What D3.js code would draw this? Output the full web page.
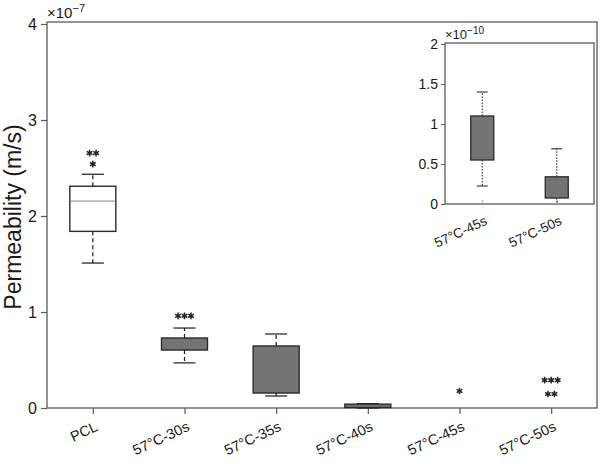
<!DOCTYPE html>
<html><head><meta charset="utf-8">
<script src="https://cdn.jsdelivr.net/npm/d3@7"></script>
<style>body{margin:0;background:#fff}svg{display:block}text{font-family:"Liberation Sans",Arial,sans-serif;fill:#1a1a1a}</style>
</head><body><svg id="c" width="600" height="464"></svg>
<script>
// ---- data (main chart, units of 1e-7 m/s) ----
const categories = ["PCL","57°C-30s","57°C-35s","57°C-40s","57°C-45s","57°C-50s"];
const boxMin    = [1.51, 0.47, 0.125, 0.0, null, null];
const boxQ1     = [1.84, 0.604, 0.156, 0.005, null, null];
const boxMedian = [2.155, 0.66, 0.40, 0.02, null, null];
const boxQ3     = [2.31, 0.729, 0.646, 0.04, null, null];
const boxMax    = [2.435, 0.833, 0.771, 0.045, null, null];
const boxFill   = ["white","gray","gray","gray","gray","gray"];
// significance star rows: category, value level, count
const starCats   = ["PCL","PCL","57°C-30s","57°C-45s","57°C-50s","57°C-50s"];
const starLevels = [2.655, 2.54, 0.96, 0.177, 0.29, 0.146];
const starCounts = [2, 1, 3, 1, 3, 2];
const yTicks = [0,1,2,3,4];
// ---- inset data (units of 1e-10 m/s) ----
const insetCategories = ["57°C-45s","57°C-50s"];
const insetMin = [0.225, 0.0];
const insetQ1  = [0.55, 0.075];
const insetQ3  = [1.1, 0.34];
const insetMax = [1.4, 0.69];
const insetTicks = [0,0.5,1,1.5,2];

const svg = d3.select("#c");
const ink = "#1a1a1a", axisCol = "#5a5a5a", grayFill = "#747474";

// ---- main chart ----
const L = 47, R = 597, T = 22, B = 408;
const x = d3.scalePoint().domain(categories).range([L, R]).padding(0.5);
const y = d3.scaleLinear().domain([0,4]).range([B, T + 2]);

svg.append("rect").attr("x", L).attr("y", T).attr("width", R - L).attr("height", B - T)
  .attr("fill", "none").attr("stroke", axisCol).attr("stroke-width", 1.3);

const yAx = svg.append("g").attr("transform", `translate(${L},0)`)
  .call(d3.axisLeft(y).tickValues(yTicks).tickSize(6).tickPadding(4).tickFormat(d3.format("d")));
yAx.select(".domain").remove();
yAx.selectAll("line").attr("stroke", axisCol).attr("stroke-width", 1.2);
yAx.selectAll("text").attr("font-size", 16).attr("fill", ink).attr("font-family", "Liberation Sans, Arial");

const xAx = svg.append("g").attr("transform", `translate(0,${B})`)
  .call(d3.axisBottom(x).tickSize(6).tickFormat(""));
xAx.select(".domain").remove();
xAx.selectAll("line").attr("stroke", axisCol).attr("stroke-width", 1.2);

svg.append("g").selectAll("text").data(categories).join("text")
  .attr("transform", d => `translate(${x(d) + 6},${B + 22}) rotate(-25)`)
  .attr("text-anchor", "end").attr("font-size", 14.5).text(d => d);

// exponent label
const ex = svg.append("text").attr("x", L).attr("y", 18).attr("font-size", 15);
ex.append("tspan").text("×10");
ex.append("tspan").attr("dy", -6).attr("font-size", 11).text("−7");

svg.append("text").attr("transform", `translate(21,${(T + B) / 2 + 2}) rotate(-90)`)
  .attr("text-anchor", "middle").attr("font-size", 23).text("Permeability (m/s)");

// boxes
const bw = 46, capW = 22;
const boxes = categories.map((c, i) => ({c, min: boxMin[i], q1: boxQ1[i], med: boxMedian[i], q3: boxQ3[i], max: boxMax[i], fill: boxFill[i]}))
  .filter(d => d.min !== null);
const gB = svg.append("g");
boxes.forEach(d => {
  const cx = x(d.c);
  gB.append("line").attr("x1", cx).attr("x2", cx).attr("y1", y(d.q3)).attr("y2", y(d.max))
    .attr("stroke", ink).attr("stroke-width", 1.2).attr("stroke-dasharray", "4,3");
  gB.append("line").attr("x1", cx).attr("x2", cx).attr("y1", y(d.q1)).attr("y2", y(d.min))
    .attr("stroke", ink).attr("stroke-width", 1.2).attr("stroke-dasharray", "4,3");
  [d.max, d.min].forEach(v => gB.append("line").attr("x1", cx - capW / 2).attr("x2", cx + capW / 2)
    .attr("y1", y(v)).attr("y2", y(v)).attr("stroke", ink).attr("stroke-width", 1.2));
  gB.append("rect").attr("x", cx - bw / 2).attr("width", bw).attr("y", y(d.q3)).attr("height", y(d.q1) - y(d.q3))
    .attr("fill", d.fill === "white" ? "#fff" : grayFill).attr("stroke", "#2a2a2a").attr("stroke-width", 1.4);
  if (d.fill === "white")
    gB.append("line").attr("x1", cx - bw / 2 + 1).attr("x2", cx + bw / 2 - 1).attr("y1", y(d.med)).attr("y2", y(d.med))
      .attr("stroke", "#999").attr("stroke-width", 1.1);
});

// stars
const star = d3.symbol().type(d3.symbolAsterisk).size(30);
starCats.forEach((c, i) => {
  const n = starCounts[i], sp = 6.5;
  for (let k = 0; k < n; k++) {
    const sx = x(c) + (k - (n - 1) / 2) * sp;
    svg.append("path").attr("d", star()).attr("transform", `translate(${sx},${y(starLevels[i])})`)
      .attr("fill", "none").attr("stroke", "#222").attr("stroke-width", 1.5);
  }
});

// ---- inset ----
const iL = 445, iR = 594, iT = 43, iB = 204;
const xi = d3.scalePoint().domain(insetCategories).range([iL, iR]).padding(0.5);
const yi = d3.scaleLinear().domain([0,2]).range([iB, iT + 1]);
svg.append("rect").attr("x", iL).attr("y", iT).attr("width", iR - iL).attr("height", iB - iT)
  .attr("fill", "#fff").attr("stroke", axisCol).attr("stroke-width", 1.3);
const yiAx = svg.append("g").attr("transform", `translate(${iL},0)`)
  .call(d3.axisLeft(yi).tickValues(insetTicks).tickSize(4).tickPadding(3).tickFormat(d => d3.format("~g")(d)));
yiAx.select(".domain").remove();
yiAx.selectAll("line").attr("stroke", axisCol);
yiAx.selectAll("text").attr("font-size", 14).attr("fill", ink).attr("font-family", "Liberation Sans, Arial");
const xiAx = svg.append("g").attr("transform", `translate(0,${iB})`)
  .call(d3.axisTop(xi).tickSize(4).tickFormat(""));
xiAx.select(".domain").remove();
xiAx.selectAll("line").attr("stroke", "#aaa");
svg.append("g").selectAll("text").data(insetCategories).join("text")
  .attr("transform", d => `translate(${xi(d) + 6},${iB + 20}) rotate(-25)`)
  .attr("text-anchor", "end").attr("font-size", 13.5).text(d => d);
const exi = svg.append("text").attr("x", iL).attr("y", 39).attr("font-size", 13);
exi.append("tspan").text("×10");
exi.append("tspan").attr("dy", -5).attr("font-size", 10).text("−10");

const ibw = 23, icap = 11;
insetCategories.forEach((c, i) => {
  const cx = xi(c);
  [[insetQ3[i], insetMax[i]], [insetQ1[i], insetMin[i]]].forEach(([a, b]) =>
    svg.append("line").attr("x1", cx).attr("x2", cx).attr("y1", yi(a)).attr("y2", yi(b))
      .attr("stroke", ink).attr("stroke-width", 1).attr("stroke-dasharray", "1.5,1.5"));
  [insetMax[i], insetMin[i]].forEach(v => { if (v > 0)
    svg.append("line").attr("x1", cx - icap / 2).attr("x2", cx + icap / 2).attr("y1", yi(v)).attr("y2", yi(v))
      .attr("stroke", ink).attr("stroke-width", 1); });
  svg.append("rect").attr("x", cx - ibw / 2).attr("width", ibw).attr("y", yi(insetQ3[i]))
    .attr("height", yi(insetQ1[i]) - yi(insetQ3[i])).attr("fill", grayFill).attr("stroke", "#2a2a2a").attr("stroke-width", 1.3);
});
</script></body></html>
